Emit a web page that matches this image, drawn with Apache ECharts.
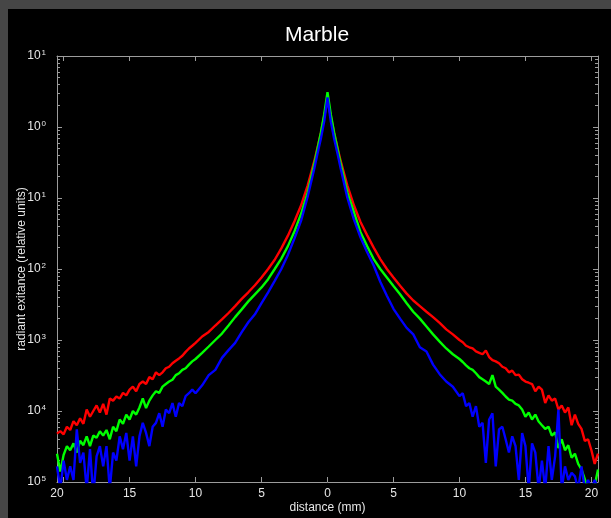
<!DOCTYPE html>
<html>
<head>
<meta charset="utf-8">
<title>Marble</title>
<script src="https://cdn.jsdelivr.net/npm/echarts@6/dist/echarts.min.js"></script>
<style>
  html, body { margin: 0; padding: 0; background: #000; }
  #chart { width: 611px; height: 518px; }
</style>
</head>
<body>
<div id="chart"></div>
<script>
// distance from the centre (mm): fine steps in the noisy tails, coarser in the middle
const distance = [
  -20.5, -20.25, -20, -19.75, -19.5, -19.25, -19, -18.75, -18.5, -18.25, -18, -17.75, -17.5, -17.25, -17,
  -16.75, -16.5, -16.25, -16, -15.75, -15.5, -15.25, -15, -14.75, -14.5, -14.25, -14, -13.75, -13.5, -13.25,
  -13, -12.75, -12.5, -12.25, -12, -11.75, -11.5, -11.25, -11, -10.75, -10.5, -10.25, -10,
  -9.5, -9, -8.5, -8, -7.5, -7, -6.5, -6, -5.5, -5, -4.5, -4, -3.5, -3, -2.5, -2, -1.5, -1,
  -0.75, -0.5, -0.25, 0, 0.25, 0.5, 0.75,
  1, 1.5, 2, 2.5, 3, 3.5, 4, 4.5, 5, 5.5, 6, 6.5, 7, 7.5, 8, 8.5, 9, 9.5,
  10, 10.25, 10.5, 10.75, 11, 11.25, 11.5, 11.75, 12, 12.25, 12.5, 12.75, 13, 13.25, 13.5, 13.75, 14,
  14.25, 14.5, 14.75, 15, 15.25, 15.5, 15.75, 16, 16.25, 16.5, 16.75, 17, 17.25, 17.5, 17.75, 18, 18.25,
  18.5, 18.75, 19, 19.25, 19.5, 19.75, 20, 20.25, 20.5
];

const redExitance = [
  4.8e-5, 5.2e-5, 4.7e-5, 6.0e-5, 5.4e-5, 7.2e-5, 6.3e-5, 7.9e-5, 6.6e-5, 1.05e-4, 8.3e-5, 1.0e-4, 1.2e-4, 9.5e-5, 1.26e-4,
  8.9e-5, 1.5e-4, 1.4e-4, 1.6e-4, 1.5e-4, 1.8e-4, 1.66e-4, 2.0e-4, 2.2e-4, 1.9e-4, 2.4e-4, 2.6e-4, 2.4e-4, 3.0e-4, 2.8e-4,
  3.5e-4, 3.2e-4, 3.5e-4, 4.0e-4, 4.2e-4, 4.7e-4, 5.1e-4, 5.5e-4, 6.0e-4, 6.8e-4, 7.6e-4, 8.3e-4, 9.1e-4,
  1.12e-3, 1.3e-3, 1.6e-3, 1.95e-3, 2.4e-3, 3.0e-3, 3.8e-3, 4.7e-3, 5.9e-3, 7.6e-3, 1.0e-2, 1.35e-2, 1.95e-2, 2.95e-2, 4.7e-2, 7.9e-2, 0.151, 0.33,
  0.52, 0.83, 1.41, 2.5, 1.41, 0.83, 0.52,
  0.33, 0.151, 7.9e-2, 4.6e-2, 3.0e-2, 2.0e-2, 1.38e-2, 1.0e-2, 7.6e-3, 5.8e-3, 4.5e-3, 3.6e-3, 3.0e-3, 2.5e-3, 2.1e-3, 1.74e-3, 1.41e-3, 1.2e-3,
  1.0e-3, 9.3e-4, 8.3e-4, 7.9e-4, 7.6e-4, 6.9e-4, 6.6e-4, 6.3e-4, 7.1e-4, 5.75e-4, 5.2e-4, 5.0e-4, 4.7e-4, 4.2e-4, 4.0e-4, 3.5e-4, 3.7e-4,
  3.2e-4, 3.25e-4, 2.8e-4, 2.6e-4, 2.5e-4, 2.4e-4, 1.9e-4, 2.2e-4, 2.0e-4, 1.3e-4, 1.66e-4, 1.4e-4, 1.5e-4, 1.05e-4, 1.2e-4, 9.5e-5, 1.12e-4,
  6.3e-5, 8.9e-5, 6.6e-5, 5.6e-5, 3.8e-5, 4.0e-5, 2.8e-5, 1.8e-5, 2.5e-5
];

const greenExitance = [
  2.5e-5, 1.4e-5, 2.4e-5, 3.2e-5, 2.8e-5, 3.5e-5, 2.6e-5, 3.8e-5, 3.3e-5, 4.4e-5, 3.2e-5, 4.5e-5, 4.2e-5, 5.2e-5, 4.5e-5,
  5.4e-5, 4.0e-5, 6.0e-5, 5.2e-5, 7.6e-5, 6.6e-5, 8.9e-5, 7.6e-5, 1.0e-4, 8.9e-5, 1.12e-4, 1.5e-4, 1.1e-4, 1.4e-4, 1.66e-4,
  1.9e-4, 1.8e-4, 2.2e-4, 2.4e-4, 2.6e-4, 2.75e-4, 3.2e-4, 3.4e-4, 3.8e-4, 4.0e-4, 4.5e-4, 5.0e-4, 5.4e-4,
  6.6e-4, 8.1e-4, 1.0e-3, 1.23e-3, 1.6e-3, 2.1e-3, 2.7e-3, 3.5e-3, 4.4e-3, 5.5e-3, 7.2e-3, 1.0e-2, 1.4e-2, 2.1e-2, 3.4e-2, 6.0e-2, 0.12, 0.30,
  0.50, 0.83, 1.5, 3.1, 1.5, 0.83, 0.50,
  0.30, 0.12, 6.3e-2, 3.3e-2, 2.1e-2, 1.38e-2, 1.0e-2, 7.6e-3, 5.75e-3, 4.4e-3, 3.3e-3, 2.5e-3, 2.0e-3, 1.55e-3, 1.2e-3, 9.5e-4, 7.6e-4, 6.3e-4,
  5.4e-4, 4.9e-4, 4.4e-4, 4.0e-4, 3.8e-4, 3.4e-4, 3.0e-4, 2.8e-4, 2.6e-4, 2.4e-4, 3.2e-4, 2.2e-4, 2.0e-4, 1.8e-4, 1.6e-4, 1.45e-4, 1.4e-4,
  1.26e-4, 1.2e-4, 1.05e-4, 8.3e-5, 9.5e-5, 7.6e-5, 8.9e-5, 7.1e-5, 6.3e-5, 5.6e-5, 6.0e-5, 4.5e-5, 5.0e-5, 3.0e-5, 4.0e-5, 2.8e-5, 3.3e-5,
  2.2e-5, 2.5e-5, 1.8e-5, 1.5e-5, 1.1e-5, 7.9e-6, 7.1e-6, 8.9e-6, 1.5e-5
];

const blueExitance = [
  1.66e-5, 7.9e-6, 2.0e-5, 1.07e-5, 1.66e-5, 1.07e-5, 5.5e-5, 1.86e-5, 2.6e-5, 7.9e-6, 2.9e-5, 6.3e-6, 2.3e-5, 3.2e-5, 1.66e-5,
  3.2e-5, 7.9e-6, 2.6e-5, 2.0e-5, 4.4e-5, 2.9e-5, 4.9e-5, 2.0e-5, 4.4e-5, 1.66e-5, 4.4e-5, 6.8e-5, 4.9e-5, 3.2e-5, 6.0e-5,
  6.8e-5, 9.3e-5, 6.0e-5, 1.05e-4, 9.3e-5, 1.29e-4, 8.3e-5, 1.29e-4, 1.17e-4, 1.62e-4, 1.78e-4, 2.0e-4, 1.78e-4,
  2.3e-4, 3.2e-4, 3.8e-4, 5.6e-4, 7.2e-4, 9.1e-4, 1.29e-3, 1.78e-3, 2.3e-3, 3.3e-3, 4.7e-3, 6.8e-3, 1.0e-2, 1.58e-2, 2.7e-2, 4.8e-2, 0.105, 0.26,
  0.43, 0.69, 1.2, 2.6, 1.2, 0.69, 0.43,
  0.26, 0.102, 5.0e-2, 2.8e-2, 1.74e-2, 1.12e-2, 6.6e-3, 4.2e-3, 2.75e-3, 2.0e-3, 1.48e-3, 1.2e-3, 7.9e-4, 6.9e-4, 4.5e-4, 3.3e-4, 2.6e-4, 2.2e-4,
  1.62e-4, 1.78e-4, 1.17e-4, 1.29e-4, 8.3e-5, 1.17e-4, 6.0e-5, 6.8e-5, 1.86e-5, 7.6e-5, 9.3e-5, 1.66e-5, 5.5e-5, 6.0e-5, 4.0e-5, 2.6e-5, 4.4e-5,
  3.2e-5, 1.07e-5, 4.9e-5, 3.2e-5, 7.9e-6, 3.5e-5, 2.6e-5, 7.9e-6, 2.0e-5, 7.9e-6, 3.2e-5, 1.07e-5, 2.3e-5, 1.05e-4, 7.9e-6, 1.66e-5, 1.07e-5,
  1.35e-5, 1.2e-5, 7.9e-6, 1.66e-5, 7.9e-6, 1.07e-5, 7.9e-6, 1.07e-5, 7.9e-6
];

// axis ticks and labels (the left-most "20" label sits at the frame edge)
const xTicks = [-20, -15, -10, -5, 0, 5, 10, 15, 20];
const xLabelValues = [-20.5, -15, -10, -5, 0, 5, 10, 15, 20];
const xLabelTexts = ['20', '15', '10', '5', '0', '5', '10', '15', '20'];
const yTicks = [1e-5, 1e-4, 1e-3, 1e-2, 1e-1, 1, 10];
const yLabelExponents = ['5', '4', '3', '2', '1', '0', '1'];
const yMinorTicks = [];
yTicks.slice(0, -1).forEach(function (d) {
    for (let k = 2; k <= 9; k++) yMinorTicks.push(k * d);
});

const FONT = '"Liberation Sans", Arial, Helvetica, sans-serif';
const AXIS_GREY = '#9c9c9c';
const LABEL_COLOR = '#e6e6e6';

function pairs(values) {
    return distance.map(function (x, i) { return [x, values[i]]; });
}

function logAxis(position, opts) {
    return Object.assign({
        type: 'log',
        logBase: 10,
        min: 1e-5,
        max: 10,
        position: position,
        gridIndex: 0,
        splitLine: { show: false },
        axisLine: { show: false, onZero: false },
        axisLabel: { show: false }
    }, opts);
}

const chart = echarts.init(document.getElementById('chart'), null, { renderer: 'canvas' });

const option = {
    animation: false,
    backgroundColor: '#000',
    title: {
        text: 'Marble',
        left: 312,
        textAlign: 'center',
        top: 20,
        textStyle: { color: '#ffffff', fontSize: 21, fontWeight: 'normal', fontFamily: FONT }
    },
    graphic: [
        { type: 'rect', shape: { x: 0, y: 0, width: 611, height: 9 }, style: { fill: '#464646' } },
        { type: 'rect', shape: { x: 0, y: 0, width: 8, height: 518 }, style: { fill: '#464646' } }
    ],
    grid: { left: 57, right: 13, top: 56, bottom: 36, containLabel: false, outerBoundsMode: 'none' },
    xAxis: [
        {
            type: 'value',
            min: -20.5,
            max: 20.5,
            position: 'bottom',
            splitLine: { show: false },
            axisLine: { onZero: false, lineStyle: { color: AXIS_GREY, width: 1 } },
            axisTick: { inside: true, length: 5, customValues: xTicks, lineStyle: { color: AXIS_GREY } },
            axisLabel: {
                customValues: xLabelValues,
                formatter: function (v) { return xLabelTexts[xLabelValues.indexOf(v)]; },
                color: LABEL_COLOR, fontSize: 12, fontFamily: FONT, margin: 6
            },
            name: 'distance (mm)',
            nameLocation: 'middle',
            nameGap: 20,
            nameMoveOverlap: false,
            nameTextStyle: { color: LABEL_COLOR, fontSize: 12, fontFamily: FONT }
        },
        {
            type: 'value',
            min: -20.5,
            max: 20.5,
            position: 'top',
            splitLine: { show: false },
            axisLine: { onZero: false, lineStyle: { color: AXIS_GREY, width: 1 } },
            axisTick: { inside: true, length: 5, customValues: xTicks, lineStyle: { color: AXIS_GREY } },
            axisLabel: { show: false }
        }
    ],
    yAxis: [
        logAxis('left', {
            axisLine: { show: true, onZero: false, lineStyle: { color: AXIS_GREY, width: 1 } },
            axisTick: { inside: true, length: 5, customValues: yTicks, lineStyle: { color: AXIS_GREY } },
            axisLabel: {
                customValues: yTicks,
                margin: 11,
                formatter: function (v) {
                    return '{b|10}{s|' + yLabelExponents[yTicks.indexOf(v)] + '}';
                },
                rich: {
                    b: { color: LABEL_COLOR, fontSize: 12, fontFamily: FONT, lineHeight: 14 },
                    s: { color: LABEL_COLOR, fontSize: 8, fontFamily: FONT, verticalAlign: 'top', lineHeight: 14, padding: [0, 0, 7, 1] }
                }
            },
            name: 'radiant exitance (relative units)',
            nameLocation: 'middle',
            nameGap: 29,
            nameRotate: 90,
            nameMoveOverlap: false,
            nameTextStyle: { color: LABEL_COLOR, fontSize: 12, fontFamily: FONT }
        }),
        logAxis('left', {
            axisTick: { inside: true, length: 3, customValues: yMinorTicks, lineStyle: { color: AXIS_GREY } }
        }),
        logAxis('right', {
            axisLine: { show: true, onZero: false, lineStyle: { color: AXIS_GREY, width: 1 } },
            axisTick: { inside: true, length: 5, customValues: yTicks, lineStyle: { color: AXIS_GREY } }
        }),
        logAxis('right', {
            axisTick: { inside: true, length: 3, customValues: yMinorTicks, lineStyle: { color: AXIS_GREY } }
        })
    ],
    series: [
        { name: 'red', type: 'line', data: pairs(redExitance), color: '#ff0000' },
        { name: 'green', type: 'line', data: pairs(greenExitance), color: '#00ff00' },
        { name: 'blue', type: 'line', data: pairs(blueExitance), color: '#0000ff' }
    ].map(function (s) {
        return Object.assign({
            xAxisIndex: 0,
            yAxisIndex: 0,
            showSymbol: false,
            symbol: 'none',
            clip: true,
            lineStyle: { width: 2.4, color: s.color }
        }, s);
    })
};

chart.setOption(option);
</script>
</body>
</html>
